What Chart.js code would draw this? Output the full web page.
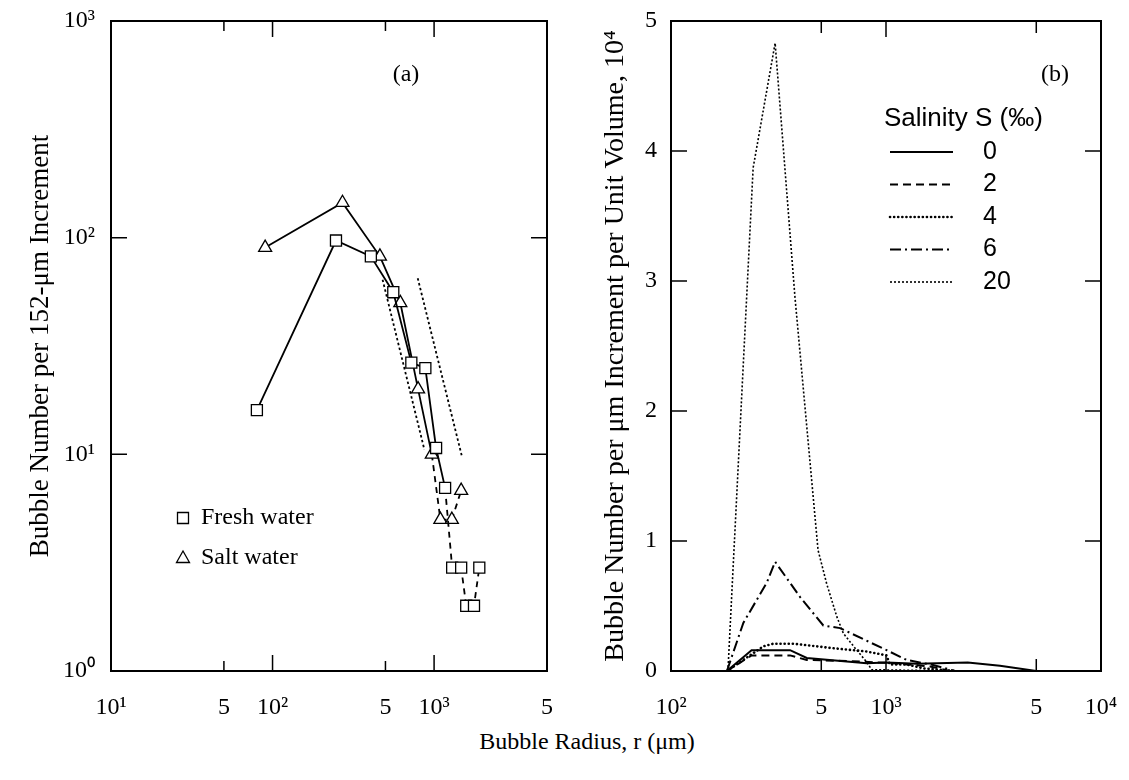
<!DOCTYPE html>
<html>
<head>
<meta charset="utf-8">
<script src="https://cdn.jsdelivr.net/npm/chart.js@4.4.1/dist/chart.umd.min.js"></script>
<style>
  body { margin: 0; background: #fff; width: 1129px; height: 780px; position: relative; overflow: hidden; }
  #chartA { position: absolute; left: 0; top: 0; }
  #chartB { position: absolute; left: 560px; top: 0; }
  #xtitle { position: absolute; left: 387px; width: 400px; top: 728px; text-align: center;
            font: 24px "Liberation Serif", serif; color: #000; }
</style>
</head>
<body>
<canvas id="chartA" width="560" height="720"></canvas>
<canvas id="chartB" width="569" height="720"></canvas>
<div id="xtitle">Bubble Radius, r (μm)</div>
<script>
// (a) bubble count per 152-um increment
const freshR = [80, 247, 406, 559, 723, 883, 1029, 1170, 1294, 1471, 1581, 1766, 1905]
const freshN = [16, 97, 82, 56, 26.5, 25, 10.7, 7, 3, 3, 2, 2, 3]
const saltR = [90, 271, 462, 618, 796, 968, 1094, 1288, 1471]
const saltN = [90, 145, 82, 50, 20, 10, 5, 5, 6.8]
const fit1R = [480, 871]
const fit1N = [64, 10.5]
const fit2R = [792, 1486]
const fit2N = [65, 9.8]
const aTicksX = [10, 50, 100, 500, 1000, 5000]
const aTicksY = [1, 10, 100, 1000]

// (b) bubble number per um increment per unit volume (x 10^4), by salinity
const s0R = [182, 237, 358, 428, 813, 1007, 1390, 2400, 3390, 5000]
const s0V = [0, 0.16, 0.16, 0.10, 0.06, 0.065, 0.055, 0.065, 0.04, 0]
const s2R = [182, 237, 358, 428, 700, 1080, 1600, 2000]
const s2V = [0, 0.12, 0.12, 0.085, 0.075, 0.06, 0.035, 0]
const s4R = [182, 269, 299, 371, 569, 813, 1007, 1040, 1250, 1500, 2100]
const s4V = [0, 0.19, 0.21, 0.21, 0.175, 0.15, 0.12, 0.05, 0.05, 0.02, 0]
const s6R = [182, 217, 279, 305, 398, 511, 611, 1007, 1248, 1655, 2100]
const s6V = [0, 0.37, 0.68, 0.84, 0.57, 0.35, 0.33, 0.16, 0.085, 0.046, 0]
const s20R = [184, 241, 305, 377, 483, 530, 590, 633, 731, 813, 858, 2140]
const s20V = [0, 3.87, 4.83, 2.88, 0.93, 0.67, 0.42, 0.29, 0.16, 0.07, 0.01, 0]
const salinity = ["0", "2", "4", "6", "20"]
const bTicksX = [100, 500, 1000, 5000, 10000]

const serif = "'Liberation Serif', 'Times New Roman', serif"
const sans = "'Liberation Sans', Arial, sans-serif"
const tickFont = { family: serif, size: 24 }
const sup = { 1: "10\u2070", 10: "10\u00b9", 100: "10\u00b2", 1000: "10\u00b3", 10000: "10\u2074" }
const logLabel = (v) => sup[v] || "5"
const pairs = (xs, ys) => xs.map((x, i) => ({ x: x, y: ys[i] }))

// fixed axis boxes so the plot area lands where the figure has it
const fitX = (s) => { s.height = 49; s.paddingLeft = 0; s.paddingRight = 0 }
const fitY = (s) => { s.width = 111; s.paddingTop = 0; s.paddingBottom = 0 }

// box round the plot, short ticks pointing inward, panel tag
const frame = {
  id: "frame",
  afterDatasetsDraw(chart, args, opts) {
    const { ctx, chartArea: a, scales } = chart
    ctx.save()
    ctx.strokeStyle = "#000"
    ctx.lineWidth = 2
    ctx.strokeRect(a.left, a.top, a.right - a.left, a.bottom - a.top)
    ctx.lineWidth = 1.5
    ctx.beginPath()
    opts.xTicks.forEach(([v, len]) => {
      const x = scales.x.getPixelForValue(v)
      ctx.moveTo(x, a.bottom); ctx.lineTo(x, a.bottom - len)
      ctx.moveTo(x, a.top); ctx.lineTo(x, a.top + len)
    })
    opts.yTicks.forEach(([v, len]) => {
      const y = scales.y.getPixelForValue(v)
      ctx.moveTo(a.left, y); ctx.lineTo(a.left + len, y)
      ctx.moveTo(a.right, y); ctx.lineTo(a.right - len, y)
    })
    ctx.stroke()
    ctx.fillStyle = "#000"
    ctx.font = "24px " + serif
    ctx.textAlign = "center"
    ctx.textBaseline = "middle"
    ctx.fillText(opts.tag, opts.tagX, opts.tagY)
    ctx.restore()
  },
}

// marker key for panel (a)
const markerKey = {
  id: "markerKey",
  afterDraw(chart, args, opts) {
    const ctx = chart.ctx
    ctx.save()
    ctx.strokeStyle = "#000"
    ctx.lineWidth = 1.3
    ctx.fillStyle = "#000"
    ctx.font = "24px " + serif
    ctx.textBaseline = "middle"
    chart.data.datasets.slice(0, 2).forEach((ds, i) => {
      const x = opts.x, y = opts.y + i * opts.gap
      ctx.beginPath()
      if (ds.pointStyle === "rect") ctx.rect(x - 5.5, y - 5.5, 11, 11)
      else { ctx.moveTo(x, y - 7); ctx.lineTo(x + 6.5, y + 4.5); ctx.lineTo(x - 6.5, y + 4.5); ctx.closePath() }
      ctx.stroke()
      ctx.fillText(ds.label, x + 18, y)
    })
    ctx.restore()
  },
}

// line key for panel (b)
const lineKey = {
  id: "lineKey",
  afterDraw(chart, args, opts) {
    const ctx = chart.ctx
    ctx.save()
    ctx.fillStyle = "#000"
    ctx.strokeStyle = "#000"
    ctx.font = "26px " + sans
    ctx.textBaseline = "middle"
    ctx.fillText(opts.title, opts.titleX, opts.titleY)
    ctx.font = "25px " + sans
    chart.data.datasets.forEach((ds, i) => {
      const y = opts.y + i * opts.gap
      ctx.lineWidth = ds.borderWidth
      ctx.lineCap = ds.borderCapStyle || "butt"
      ctx.setLineDash(ds.borderDash || [])
      ctx.beginPath()
      ctx.moveTo(opts.x1, y); ctx.lineTo(opts.x2, y)
      ctx.stroke()
      ctx.setLineDash([])
      ctx.fillText(ds.label, opts.textX, y)
    })
    ctx.restore()
  },
}

const hideGrid = { display: false, drawTicks: false }

new Chart(document.getElementById("chartA"), {
  type: "line",
  data: {
    datasets: [
      {
        label: "Fresh water",
        data: pairs(freshR, freshN),
        borderColor: "#000",
        borderWidth: 1.8,
        pointStyle: "rect",
        pointRadius: 7.8,
        pointBackgroundColor: "#fff",
        pointBorderColor: "#000",
        pointBorderWidth: 1.3,
        segment: { borderDash: (c) => (c.p0.parsed.x >= 1100 ? [6, 5] : undefined) },
      },
      {
        label: "Salt water",
        data: pairs(saltR, saltN),
        borderColor: "#000",
        borderWidth: 1.8,
        pointStyle: "triangle",
        pointRadius: 7.5,
        pointBackgroundColor: "#fff",
        pointBorderColor: "#000",
        pointBorderWidth: 1.3,
        segment: { borderDash: (c) => (c.p0.parsed.x >= 960 ? [6, 5] : undefined) },
      },
      { label: "fit 1", data: pairs(fit1R, fit1N), borderColor: "#000", borderWidth: 1.8, borderDash: [2.5, 2.5], pointRadius: 0 },
      { label: "fit 2", data: pairs(fit2R, fit2N), borderColor: "#000", borderWidth: 1.8, borderDash: [2.5, 2.5], pointRadius: 0 },
    ],
  },
  options: {
    responsive: false,
    animation: false,
    layout: { padding: { left: 0, right: 13, top: 21, bottom: 0 } },
    plugins: {
      legend: { display: false },
      tooltip: { enabled: false },
      frame: {
        xTicks: [[50, 10], [100, 16], [500, 10], [1000, 16]],
        yTicks: [[10, 16], [100, 16]],
        tag: "(a)", tagX: 406, tagY: 75,
      },
      markerKey: { x: 183, y: 518, gap: 40 },
    },
    scales: {
      x: {
        type: "logarithmic",
        min: 10,
        max: 5000,
        grid: hideGrid,
        border: { display: false },
        afterBuildTicks: (s) => { s.ticks = aTicksX.map((v) => ({ value: v })) },
        afterFit: fitX,
        ticks: { font: tickFont, color: "#000", padding: 22, maxRotation: 0, autoSkip: false, callback: logLabel },
      },
      y: {
        type: "logarithmic",
        min: 1,
        max: 1000,
        grid: hideGrid,
        border: { display: false },
        afterBuildTicks: (s) => { s.ticks = aTicksY.map((v) => ({ value: v })) },
        afterFit: fitY,
        ticks: { font: tickFont, color: "#000", padding: 16, autoSkip: false, callback: logLabel },
        title: {
          display: true,
          text: "Bubble Number per 152-μm Increment",
          font: { family: serif, size: 27 },
          color: "#000",
          padding: { top: 25 },
        },
      },
    },
  },
  plugins: [frame, markerKey],
})

const curve = (label, xs, ys, dash, width, cap) => ({
  label: label,
  data: pairs(xs, ys),
  borderColor: "#000",
  borderWidth: width,
  borderDash: dash,
  borderCapStyle: cap || "butt",
  pointRadius: 0,
  tension: 0,
})

new Chart(document.getElementById("chartB"), {
  type: "line",
  data: {
    datasets: [
      curve(salinity[0], s0R, s0V, [], 2),
      curve(salinity[1], s2R, s2V, [8, 5], 2),
      curve(salinity[2], s4R, s4V, [0.1, 4], 2.6, "round"),
      curve(salinity[3], s6R, s6V, [11, 4, 2, 4], 2),
      curve(salinity[4], s20R, s20V, [2, 2], 1.6),
    ],
  },
  options: {
    responsive: false,
    animation: false,
    layout: { padding: { left: 0, right: 28, top: 21, bottom: 0 } },
    plugins: {
      legend: { display: false },
      tooltip: { enabled: false },
      frame: {
        xTicks: [[500, 12], [1000, 16], [5000, 12]],
        yTicks: [[1, 16], [2, 16], [3, 16], [4, 16]],
        tag: "(b)", tagX: 495, tagY: 75,
      },
      lineKey: {
        title: "Salinity S (‰)", titleX: 324, titleY: 119,
        x1: 330, x2: 393, textX: 423, y: 152, gap: 32.5,
      },
    },
    scales: {
      x: {
        type: "logarithmic",
        min: 100,
        max: 10000,
        grid: hideGrid,
        border: { display: false },
        afterBuildTicks: (s) => { s.ticks = bTicksX.map((v) => ({ value: v })) },
        afterFit: fitX,
        ticks: { font: tickFont, color: "#000", padding: 22, maxRotation: 0, autoSkip: false, callback: logLabel },
      },
      y: {
        min: 0,
        max: 5,
        grid: hideGrid,
        border: { display: false },
        afterFit: fitY,
        ticks: { font: tickFont, color: "#000", padding: 14, stepSize: 1 },
        title: {
          display: true,
          text: "Bubble Number per μm Increment per Unit Volume, 10\u2074",
          font: { family: serif, size: 28 },
          color: "#000",
          padding: { top: 39 },
        },
      },
    },
  },
  plugins: [frame, lineKey],
})
</script>
</body>
</html>
